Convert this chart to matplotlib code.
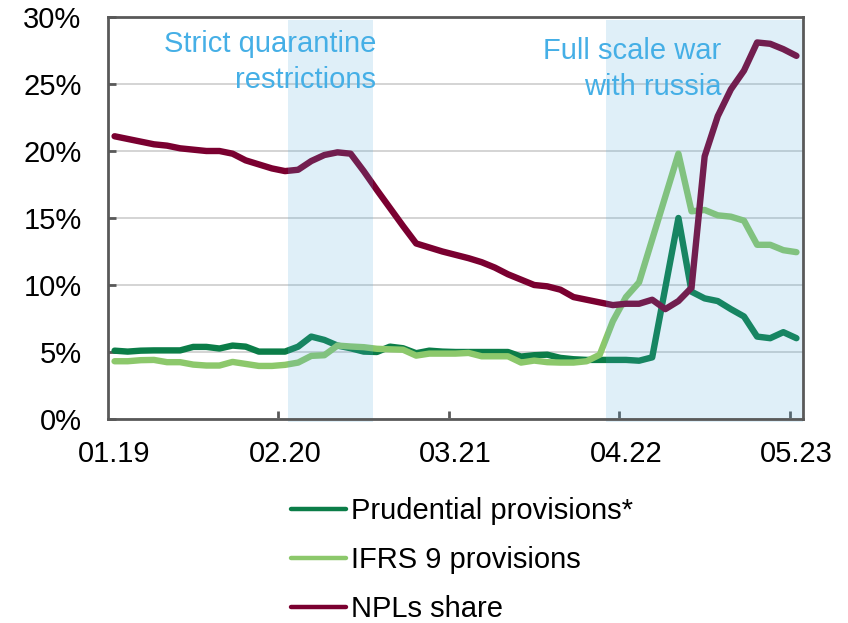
import matplotlib
matplotlib.use("Agg")
import matplotlib.pyplot as plt
from matplotlib.ticker import FixedLocator, FuncFormatter
from matplotlib.lines import Line2D
import numpy as np

plt.rcParams['font.family'] = ['Liberation Sans', 'DejaVu Sans']

# Monthly data, 01.2019 .. 05.2023 (53 months), in %
prudential = [5.1, 5.03, 5.1, 5.12, 5.12, 5.12, 5.38, 5.38, 5.26, 5.48,
              5.4, 5.03, 5.03, 5.03, 5.4, 6.15, 5.9, 5.48, 5.28, 5.03,
              5.0, 5.4, 5.28, 4.91, 5.1, 5.03, 5.0, 5.0, 5.0, 5.0,
              5.0, 4.66, 4.76, 4.8, 4.56, 4.46, 4.41, 4.41, 4.41, 4.41,
              4.35, 4.6, 9.8, 15.0, 9.5, 9.0, 8.8, 8.2, 7.65, 6.15,
              6.03, 6.48, 6.03]
ifrs9 = [4.31, 4.31, 4.39, 4.41, 4.24, 4.24, 4.06, 3.99, 3.99, 4.26,
         4.11, 3.96, 3.96, 4.04, 4.21, 4.71, 4.76, 5.48, 5.41, 5.36,
         5.24, 5.2, 5.17, 4.73, 4.88, 4.88, 4.88, 4.93, 4.68, 4.68,
         4.68, 4.21, 4.36, 4.24, 4.21, 4.21, 4.31, 4.8, 7.3, 9.1,
         10.2, 13.4, 16.6, 19.8, 15.5, 15.6, 15.2, 15.1, 14.8, 13.0,
         13.0, 12.6, 12.45]
npl_share = [21.1, 20.9, 20.7, 20.5, 20.4, 20.2, 20.1, 20.0, 20.0, 19.8,
             19.3, 19.0, 18.7, 18.5, 18.6, 19.25, 19.7, 19.9, 19.8, 18.5,
             17.1, 15.75, 14.4, 13.1, 12.8, 12.5, 12.25, 12.0, 11.7, 11.3,
             10.8, 10.4, 10.0, 9.9, 9.65, 9.1, 8.9, 8.7, 8.5, 8.6,
             8.6, 8.9, 8.2, 8.8, 9.8, 19.6, 22.6, 24.6, 26.0, 28.1,
             28.0, 27.6, 27.1]
tick_labels = ["01.19", "02.20", "03.21", "04.22", "05.23"]
tick_idx = [0, 13, 26, 39, 52]
series_names = ["Prudential provisions*", "IFRS 9 provisions", "NPLs share"]
quarantine_period = (13.2, 19.7)
war_period = (37.45, 52.5)
annotations = ["Strict quarantine\nrestrictions", "Full scale war\nwith russia"]

c_prud = "#0B7D48"
c_ifrs = "#8CC86B"
c_npl = "#7A0030"
c_text = "#45AFE6"
c_shade = (79/255, 170/255, 221/255)
spine_c = "#595959"

fig = plt.figure(figsize=(8.48, 6.23), dpi=100)
ax = fig.add_axes([108/848, 1-419/623, (803-108)/848, (419-17)/623])

x = np.arange(len(npl_share))
for vals, c in ((prudential, c_prud), (ifrs9, c_ifrs), (npl_share, c_npl)):
    ax.plot(x, vals, color=c, lw=4.6, solid_capstyle='round',
            solid_joinstyle='round', zorder=3)

for (a, b) in (quarantine_period, war_period):
    ax.axvspan(a, b, ymin=-0.008, ymax=0.993, color=c_shade, alpha=0.18,
               lw=0, zorder=4, clip_on=False)

ax.set_xlim(-0.5, 52.5)
ax.set_ylim(0, 30)

ax.yaxis.set_major_locator(FixedLocator(np.arange(0, 31, 5)))
ax.yaxis.set_major_formatter(FuncFormatter(lambda v, p: "%d%%" % v))
ax.grid(axis='y', color='#D4D4D4', lw=1.4, zorder=1)
ax.set_axisbelow(True)

ax.xaxis.set_major_locator(FixedLocator([12.5, 25.5, 38.5, 51.5]))
ax.xaxis.set_major_formatter(FuncFormatter(lambda v, p: ""))
ax.xaxis.set_minor_locator(FixedLocator(tick_idx))
ax.set_xticklabels(tick_labels, minor=True)
ax.tick_params(axis='x', which='major', direction='in', length=6, width=2, color=spine_c)
ax.tick_params(axis='x', which='minor', length=0, labelsize=21, pad=15)
ax.tick_params(axis='y', direction='in', length=6, width=2, color=spine_c, labelsize=21, pad=19)

for s in ax.spines.values():
    s.set_color(spine_c)
    s.set_linewidth(2)
    s.set_zorder(5)

ax.text(19.93, 0.968, annotations[0], transform=ax.get_xaxis_transform(),
        ha='right', va='top', multialignment='right', fontsize=21, color=c_text,
        linespacing=1.38, zorder=6)
ax.text(46.28, 0.950, annotations[1], transform=ax.get_xaxis_transform(),
        ha='right', va='top', multialignment='right', fontsize=21, color=c_text,
        linespacing=1.38, zorder=6)

handles = [Line2D([], [], color=c, lw=3.2, solid_capstyle='round') for c in (c_prud, c_ifrs, c_npl)]
fig.legend(handles, series_names, loc='upper left', bbox_to_anchor=(291/848, 1-497/623),
           frameon=False, fontsize=21, handlelength=1.9, handletextpad=0.15,
           labelspacing=0.72, borderpad=0, borderaxespad=0)

fig.savefig("out.png", dpi=100)
